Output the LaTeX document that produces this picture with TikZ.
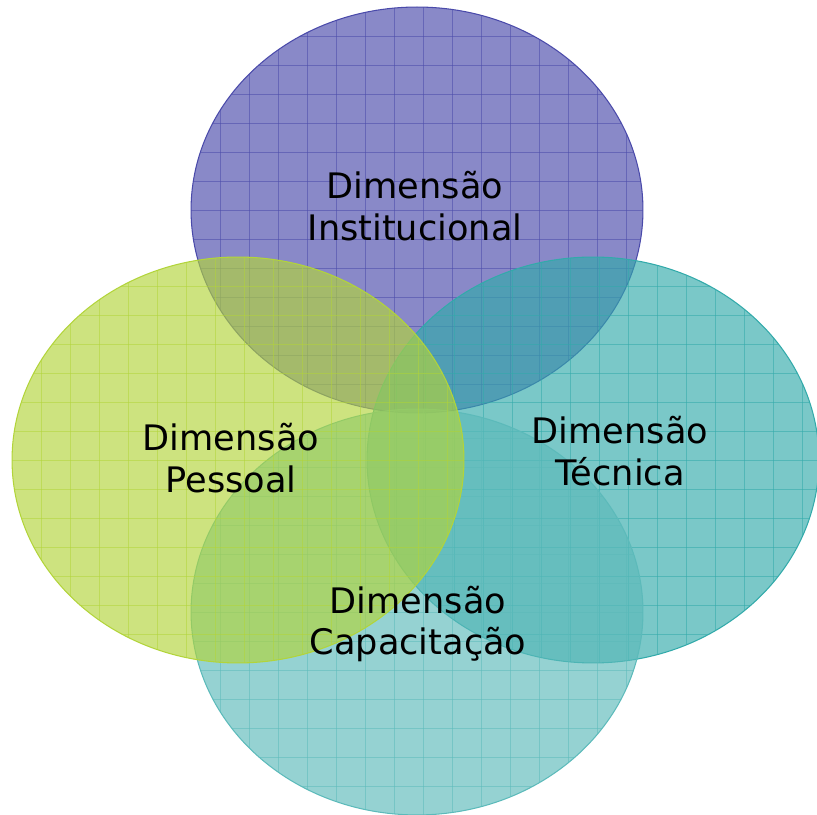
\documentclass[tikz,border=0pt]{standalone}
\usepackage{fontspec}
\usetikzlibrary{shapes.geometric}
\newfontfamily\labelfont{DejaVu Sans}
\definecolor{instcolor}{RGB}{74,74,170}
\definecolor{pesscolor}{RGB}{178,212,58}
\definecolor{tecncolor}{RGB}{50,170,170}
\definecolor{capacolor}{RGB}{92,186,186}
\tikzset{%
	every set/.style={
		ellipse,
		inner sep=0pt,
		minimum width=9.04cm,
		minimum height=8.12cm,
		line width=0.6pt,
		fill opacity=0.65
	},
	set/.style={
		every set,
		draw=#1,
		fill=#1,
		path picture={
			\foreach \k in {1,...,15} {
				\draw[#1, draw opacity=0.55, line width=0.5pt]
					([xshift=\k*0.58cm]path picture bounding box.south west) --
					([xshift=\k*0.58cm]path picture bounding box.north west);
				\draw[#1, draw opacity=0.55, line width=0.5pt]
					([yshift=-\k*0.58cm]path picture bounding box.north west) --
					([yshift=-\k*0.58cm]path picture bounding box.north east);
			}
		}
	},
	set label/.style={
		align=center,
		inner sep=0pt,
		font=\labelfont\fontsize{20}{23.5}\selectfont
	},
}
\begin{document}
\begin{tikzpicture}[x=0.02cm, y=0.02cm]
	\useasboundingbox (0,0) rectangle (817,814);
	% the four sets
	\node[set=instcolor] (inst) at (417,604) {};
	\node[set=tecncolor] (tecn) at (593,354) {};
	\node[set=capacolor] (capa) at (417,202) {};
	\node[set=pesscolor] (pess) at (238,354) {};
	% labels
	\node[set label] (instlabel) at (415,608) {Dimensão\\Institucional};
	\node[set label] (pesslabel) at (231,356) {Dimensão\\Pessoal};
	\node[set label] (tecnlabel) at (620,363) {Dimensão\\Técnica};
	\node[set label] (capalabel) at (418,190) {Dimensão\\Capacitação};
\end{tikzpicture}
\end{document}
